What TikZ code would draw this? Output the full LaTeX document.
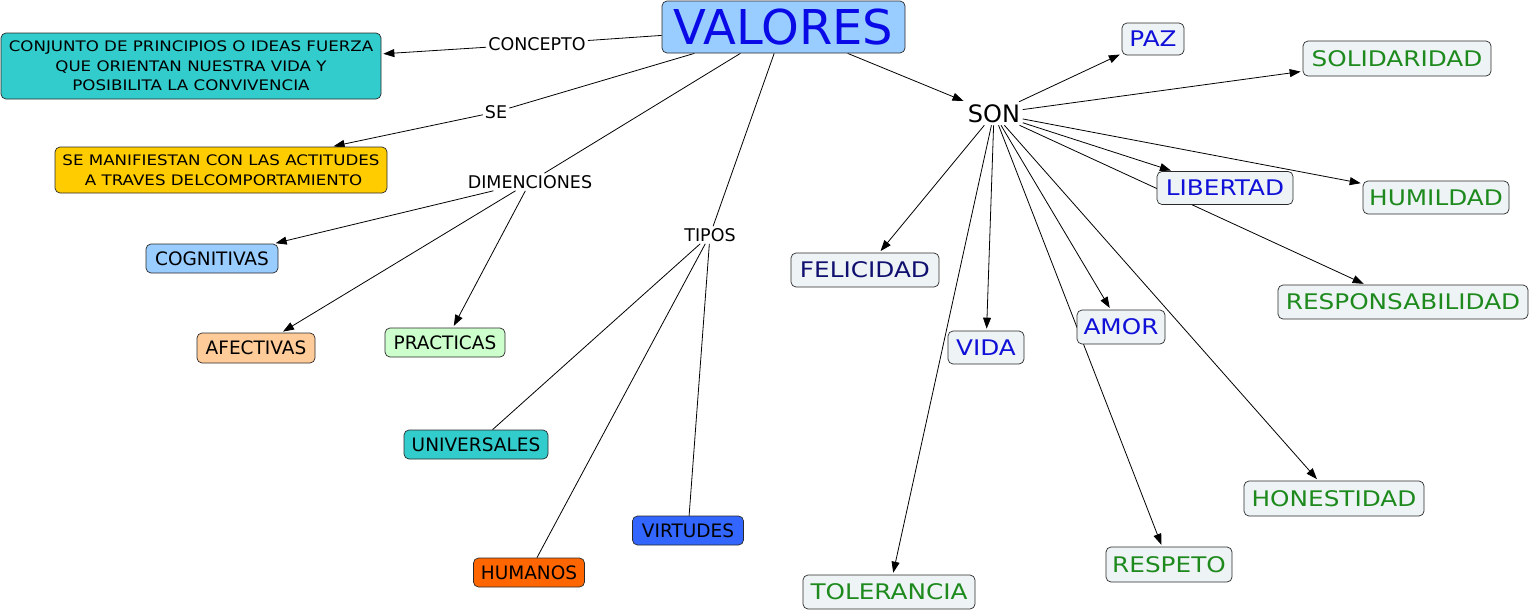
\documentclass[tikz,border=0pt]{standalone}
\usepackage{fontspec}
\setmainfont{DejaVu Sans}[FakeStretch=1.15]
\newfontfamily\plainfont{DejaVu Sans}
\usetikzlibrary{arrows.meta,backgrounds}
\definecolor{ink}{HTML}{000000}
\definecolor{edge}{HTML}{2A2A2A}
\definecolor{cielo}{HTML}{99CCFF}
\definecolor{turq}{HTML}{33CCCC}
\definecolor{oro}{HTML}{FFCC00}
\definecolor{melon}{HTML}{FFCC99}
\definecolor{menta}{HTML}{CCFFCC}
\definecolor{naran}{HTML}{FF6600}
\definecolor{azul}{HTML}{3366FF}
\definecolor{pale}{HTML}{EEF4F5}
\definecolor{tblue}{HTML}{1010D8}
\definecolor{tgreen}{HTML}{1E8A1E}
\definecolor{tnavy}{HTML}{101070}
\definecolor{tval}{HTML}{0A0AE6}
\tikzset{
  lbl/.style ={font=\plainfont\fontsize{17.5}{20}\selectfont,inner sep=2pt,text=ink},
  cpt/.style ={draw=edge,line width=.7pt,rounded corners=5pt,align=center,font=\plainfont\fontsize{18.5}{22}\selectfont,inner sep=0pt,text=ink},
  txt/.style ={cpt,font=\fontsize{14.5}{19.5}\selectfont},
  val/.style ={cpt,fill=pale,font=\fontsize{21.5}{24}\selectfont},
  lnk/.style ={line width=.8pt,ink},
  arw/.style ={lnk,-{Triangle[length=11pt,width=8pt]},shorten >=2pt},
}

\begin{document}
\begin{tikzpicture}[x=1pt,y=-1pt]
\useasboundingbox (0,0) rectangle (1531,611);
% ===== root =====
\node[cpt,fill=cielo,minimum width=243pt,minimum height=52pt,text=tval,font=\plainfont\fontsize{48}{50}\selectfont] (valores) at (783.5,27) {VALORES};

% ===== left branches =====
\node[lbl] (concepto) at (537,44) {CONCEPTO};
\node[txt,fill=turq,minimum width=380pt,minimum height=66pt] (conj) at (191,66)
  {CONJUNTO DE PRINCIPIOS O IDEAS FUERZA\\QUE ORIENTAN NUESTRA VIDA Y\\POSIBILITA LA CONVIVENCIA};
\node[lbl] (se) at (496,112) {SE};
\node[txt,fill=oro,minimum width=332pt,minimum height=46pt] (manif) at (221,170)
  {SE MANIFIESTAN CON LAS ACTITUDES\\\hspace*{.35em}A TRAVES DELCOMPORTAMIENTO};
\node[lbl] (dimen) at (530,182) {DIMENCIONES};
\node[cpt,fill=cielo,minimum width=132pt,minimum height=29pt] (cogn) at (212,258.5) {COGNITIVAS};
\node[cpt,fill=melon,minimum width=118pt,minimum height=30pt] (afec) at (256,348) {AFECTIVAS};
\node[cpt,fill=menta,minimum width=120pt,minimum height=29pt] (prac) at (445,342.5) {PRACTICAS};
\node[lbl] (tipos) at (710,235) {TIPOS};
\node[cpt,fill=turq,minimum width=144pt,minimum height=29pt] (univ) at (476,444.5) {UNIVERSALES};
\node[cpt,fill=naran,minimum width=111pt,minimum height=29pt] (hum) at (529,572.5) {HUMANOS};
\node[cpt,fill=azul,minimum width=111pt,minimum height=29pt] (virt) at (688,530.5) {VIRTUDES};

% ===== SON branch =====
\node[lbl,font=\plainfont\fontsize{24}{26}\selectfont,inner sep=2.5pt] (son) at (994,113.5) {SON};
\node[val,text=tblue,minimum width=62pt,minimum height=32pt] (paz) at (1153,39) {PAZ};
\node[val,text=tgreen,minimum width=188pt,minimum height=35pt] (soli) at (1397,58.5) {SOLIDARIDAD};
\node[val,text=tblue,minimum width=136pt,minimum height=33pt] (libe) at (1225,188) {LIBERTAD};
\node[val,text=tgreen,minimum width=146pt,minimum height=33pt] (humi) at (1436,197.5) {HUMILDAD};
\node[val,text=tgreen,minimum width=250pt,minimum height=34pt] (resp) at (1403,302) {RESPONSABILIDAD};
\node[val,text=tnavy,minimum width=148pt,minimum height=34pt] (feli) at (865,270) {FELICIDAD};
\node[val,text=tblue,minimum width=76pt,minimum height=33pt] (vida) at (986,347.5) {VIDA};
\node[val,text=tblue,minimum width=88pt,minimum height=34pt] (amor) at (1121,327) {AMOR};
\node[val,text=tgreen,minimum width=172pt,minimum height=34pt] (tole) at (889,592) {TOLERANCIA};
\node[val,text=tgreen,minimum width=126pt,minimum height=35pt] (respe) at (1169,564.5) {RESPETO};
\node[val,text=tgreen,minimum width=180pt,minimum height=35pt] (hone) at (1334,498.5) {HONESTIDAD};

% ===== connectors (behind boxes) =====
\begin{scope}[on background layer]
  \draw[lnk] (valores) -- (concepto); \draw[arw] (concepto) -- (conj);
  \draw[lnk] (valores) -- (se);       \draw[arw] (se) -- (manif);
  \draw[lnk] (valores) -- (dimen);
  \foreach \d in {cogn,afec,prac} \draw[arw] (dimen) -- (\d);
  \draw[lnk] (valores) -- (tipos);
  \foreach \t in {univ,hum,virt} \draw[lnk] (tipos) -- (\t);
  \draw[arw] (valores) -- (son);
  \foreach \v in {paz,soli,libe,humi,resp,feli,vida,amor,tole,respe,hone}
    \draw[arw] (son) -- (\v);
\end{scope}
\end{tikzpicture}
\end{document}
